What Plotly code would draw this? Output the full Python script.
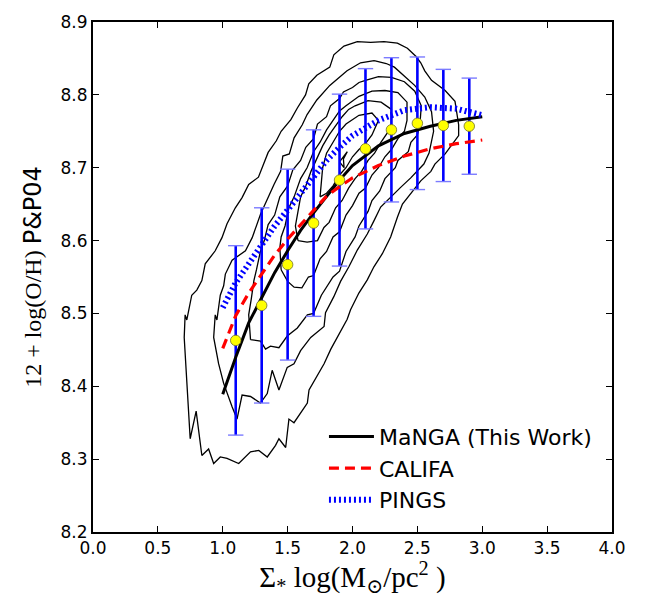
import plotly.graph_objects as go

# ---- Binned MaNGA medians with 1-sigma scatter ----
bin_x = [1.1, 1.3, 1.5, 1.7, 1.9, 2.1, 2.3, 2.5, 2.7, 2.9]
bin_y = [8.463, 8.511, 8.567, 8.624, 8.683, 8.726, 8.752, 8.761, 8.758, 8.757]
bin_err = [0.130, 0.134, 0.131, 0.128, 0.118, 0.110, 0.099, 0.091, 0.077, 0.066]

# ---- Fitted relations ----
fit_x = [1.0, 1.1, 1.2, 1.3, 1.4, 1.5, 1.6, 1.7, 1.8, 1.9, 2.0, 2.2, 2.4, 2.6, 2.8, 3.0]
manga_y = [8.389, 8.440, 8.487, 8.522, 8.556, 8.586, 8.614, 8.638, 8.661, 8.683,
           8.703, 8.730, 8.747, 8.757, 8.765, 8.770]
califa_y = [8.452, 8.497, 8.528, 8.554, 8.580, 8.602, 8.622, 8.641, 8.661, 8.674,
            8.686, 8.703, 8.716, 8.726, 8.733, 8.738]
pings_y = [8.508, 8.542, 8.568, 8.594, 8.620, 8.642, 8.665, 8.690, 8.710, 8.728,
           8.744, 8.765, 8.779, 8.783, 8.781, 8.772]

# ---- Spaxel density contours (outermost to innermost) ----
c1_x = [0.749, 0.723, 0.703, 0.710, 0.723, 0.761, 0.800, 0.839, 0.865, 0.942, 0.994, 1.033,
        1.097, 1.149, 1.200, 1.275, 1.313, 1.350, 1.413, 1.450, 1.525, 1.575, 1.638, 1.663,
        1.725, 1.825, 1.856, 1.934, 2.037, 2.140, 2.243, 2.346, 2.423, 2.488, 2.526, 2.557,
        2.609, 2.714, 2.790, 2.818, 2.818, 2.714, 2.635, 2.604, 2.526, 2.449, 2.385, 2.346,
        2.294, 2.230, 2.165, 2.114, 2.049, 1.985, 1.959, 1.833, 1.781, 1.665, 1.652, 1.549,
        1.510, 1.485, 1.433, 1.407, 1.343, 1.278, 1.214, 1.123, 1.033, 0.981, 0.930, 0.891,
        0.839, 0.795, 0.749]
c1_y = [8.328, 8.408, 8.467, 8.498, 8.491, 8.525, 8.532, 8.545, 8.568, 8.586, 8.604, 8.623,
        8.645, 8.659, 8.677, 8.687, 8.705, 8.721, 8.737, 8.750, 8.766, 8.782, 8.800, 8.815,
        8.827, 8.838, 8.855, 8.867, 8.873, 8.872, 8.873, 8.871, 8.864, 8.853, 8.844, 8.833,
        8.820, 8.806, 8.791, 8.759, 8.744, 8.719, 8.705, 8.695, 8.682, 8.664, 8.650, 8.632,
        8.605, 8.582, 8.564, 8.546, 8.528, 8.505, 8.492, 8.451, 8.431, 8.395, 8.377, 8.350,
        8.355, 8.316, 8.328, 8.319, 8.303, 8.312, 8.310, 8.294, 8.301, 8.303, 8.294, 8.314,
        8.305, 8.366, 8.328]

c2_x = [2.167, 2.260, 2.323, 2.400, 2.479, 2.557, 2.609, 2.625, 2.590, 2.550, 2.500, 2.449,
        2.371, 2.294, 2.217, 2.165, 2.114, 2.037, 1.972, 1.908, 1.856, 1.792, 1.781, 1.678,
        1.600, 1.549, 1.497, 1.433, 1.381, 1.343, 1.290, 1.214, 1.149, 1.110, 1.072, 1.007,
        0.968, 0.930, 0.942, 0.955, 0.981, 1.007, 1.020, 1.072, 1.175, 1.227, 1.265, 1.291,
        1.395, 1.446, 1.463, 1.513, 1.550, 1.613, 1.650, 1.725, 1.825, 1.958, 2.062, 2.167]
c2_y = [8.847, 8.843, 8.838, 8.826, 8.813, 8.797, 8.777, 8.750, 8.720, 8.705, 8.695, 8.686,
        8.673, 8.659, 8.646, 8.627, 8.609, 8.587, 8.564, 8.544, 8.523, 8.501, 8.482, 8.467,
        8.449, 8.431, 8.426, 8.395, 8.422, 8.390, 8.377, 8.386, 8.388, 8.355, 8.372, 8.404,
        8.431, 8.467, 8.498, 8.491, 8.525, 8.538, 8.554, 8.573, 8.586, 8.604, 8.623, 8.636,
        8.677, 8.695, 8.716, 8.719, 8.741, 8.759, 8.773, 8.793, 8.813, 8.833, 8.844, 8.847]

c3_x = [1.214, 1.291, 1.330, 1.368, 1.433, 1.497, 1.575, 1.652, 1.700, 1.760, 1.850, 1.900,
        1.950, 2.020, 2.050, 2.120, 2.150, 2.210, 2.250, 2.330, 2.350, 2.430, 2.450, 2.500,
        2.520, 2.530, 2.480, 2.400, 2.300, 2.200, 2.100, 2.050, 2.000, 1.930, 1.900, 1.830,
        1.800, 1.730, 1.700, 1.640, 1.600, 1.540, 1.500, 1.440, 1.400, 1.350, 1.320, 1.290,
        1.260, 1.240, 1.220, 1.200, 1.214]
c3_y = [8.464, 8.462, 8.451, 8.455, 8.453, 8.469, 8.480, 8.498, 8.500, 8.525, 8.550, 8.558,
        8.585, 8.605, 8.620, 8.640, 8.655, 8.668, 8.685, 8.700, 8.710, 8.722, 8.735, 8.745,
        8.760, 8.785, 8.805, 8.818, 8.824, 8.825, 8.820, 8.817, 8.810, 8.804, 8.795, 8.785,
        8.770, 8.760, 8.740, 8.728, 8.710, 8.697, 8.675, 8.660, 8.635, 8.622, 8.600, 8.585,
        8.560, 8.545, 8.520, 8.498, 8.464]

c4_x = [1.450, 1.500, 1.550, 1.610, 1.660, 1.700, 1.750, 1.800, 1.850, 1.900, 1.950, 2.000,
        2.050, 2.100, 2.150, 2.200, 2.250, 2.300, 2.350, 2.400, 2.420, 2.420, 2.350, 2.250,
        2.150, 2.050, 1.950, 1.900, 1.850, 1.800, 1.750, 1.700, 1.650, 1.600, 1.550, 1.510,
        1.480, 1.450, 1.440, 1.450]
c4_y = [8.560, 8.544, 8.536, 8.535, 8.550, 8.552, 8.575, 8.585, 8.605, 8.612, 8.635, 8.648,
        8.665, 8.672, 8.690, 8.700, 8.715, 8.725, 8.740, 8.750, 8.765, 8.790, 8.803, 8.806,
        8.805, 8.798, 8.785, 8.778, 8.765, 8.752, 8.735, 8.722, 8.700, 8.685, 8.660, 8.645,
        8.620, 8.605, 8.590, 8.560]

c5_x = [1.580, 1.650, 1.730, 1.780, 1.820, 1.870, 1.920, 1.970, 2.020, 2.070, 2.120, 2.170,
        2.220, 2.270, 2.300, 2.300, 2.220, 2.120, 2.020, 1.970, 1.920, 1.870, 1.820, 1.770,
        1.720, 1.680, 1.640, 1.600, 1.580, 1.560, 1.580]
c5_y = [8.600, 8.598, 8.600, 8.618, 8.625, 8.645, 8.655, 8.672, 8.685, 8.695, 8.710, 8.720,
        8.735, 8.748, 8.760, 8.780, 8.790, 8.792, 8.785, 8.780, 8.770, 8.758, 8.745, 8.730,
        8.710, 8.695, 8.675, 8.660, 8.640, 8.620, 8.600]

c6_x = [1.750, 1.800, 1.850, 1.900, 1.950, 2.000, 2.050, 2.100, 2.150, 2.200, 2.150, 2.050,
        1.950, 1.900, 1.850, 1.800, 1.770, 1.750]
c6_y = [8.660, 8.665, 8.675, 8.690, 8.700, 8.715, 8.725, 8.733, 8.745, 8.765, 8.775, 8.772,
        8.760, 8.750, 8.735, 8.720, 8.700, 8.660]

c7_x = [1.900, 1.935, 1.930, 1.960, 1.900]
c7_y = [8.708, 8.700, 8.712, 8.722, 8.708]

contours = [(c1_x, c1_y), (c2_x, c2_y), (c3_x, c3_y), (c4_x, c4_y),
            (c5_x, c5_y), (c6_x, c6_y), (c7_x, c7_y)]

x_ticks = [0.0, 0.5, 1.0, 1.5, 2.0, 2.5, 3.0, 3.5, 4.0]
y_ticks = [8.2, 8.3, 8.4, 8.5, 8.6, 8.7, 8.8, 8.9]

SERIF = "Liberation Serif, DejaVu Serif, serif"
SANS = "DejaVu Sans, sans-serif"

fig = go.Figure()

for cx, cy in contours:
    fig.add_trace(go.Scatter(x=cx, y=cy, mode="lines", line=dict(color="black", width=1.3),
                             showlegend=False, hoverinfo="skip"))

# error bars: thick blue stems, thin pale caps
fig.add_trace(go.Scatter(
    x=bin_x, y=bin_y, mode="markers", marker=dict(size=1, opacity=0),
    error_y=dict(type="data", array=bin_err, visible=True, color="#0000ff",
                 thickness=2.6, width=0),
    showlegend=False, hoverinfo="skip"))
cap_x = bin_x + bin_x
cap_y = [v + e for v, e in zip(bin_y, bin_err)] + [v - e for v, e in zip(bin_y, bin_err)]
fig.add_trace(go.Scatter(
    x=cap_x, y=cap_y, mode="markers",
    marker=dict(symbol="line-ew", size=11, line=dict(color="#7b7bff", width=1.4)),
    showlegend=False, hoverinfo="skip"))

fig.add_trace(go.Scatter(x=fit_x, y=manga_y, mode="lines", name="MaNGA (This Work)",
                         line=dict(color="black", width=3), legendrank=1))
fig.add_trace(go.Scatter(x=fit_x, y=califa_y, mode="lines", name="CALIFA",
                         line=dict(color="#ff0000", width=3.2, dash="10px,6px"), legendrank=2))
fig.add_trace(go.Scatter(x=fit_x, y=pings_y, mode="lines", name="PINGS",
                         line=dict(color="#0000ff", width=6, dash="2px,3px"), legendrank=3))

fig.add_trace(go.Scatter(
    x=bin_x, y=bin_y, mode="markers",
    marker=dict(size=10.5, color="#ffff00", line=dict(color="#6e6e2a", width=0.8)),
    showlegend=False, hoverinfo="skip"))

axis_common = dict(showline=True, linewidth=2, linecolor="black", mirror="ticks",
                   ticks="inside", ticklen=6, tickwidth=1, tickcolor="black",
                   showgrid=False, zeroline=False,
                   tickfont=dict(family=SANS, size=17, color="black"))

fig.update_layout(
    width=645, height=597,
    margin=dict(l=93, r=33, t=13, b=65),
    paper_bgcolor="white", plot_bgcolor="white",
    xaxis=dict(range=[0, 4], tickvals=x_ticks, ticktext=[f"{v:.1f}" for v in x_ticks],
               title=dict(text="Σ<sub>*</sub> log(M<sub>⊙</sub>/pc<sup>2</sup> )",
                          font=dict(family=SERIF, size=29, color="black"), standoff=4),
               **axis_common),
    yaxis=dict(range=[8.2, 8.9], tickvals=y_ticks, ticktext=[f"{v:.1f}" for v in y_ticks],
               title=dict(text="12 + log(O/H) <span style=\"font-family:DejaVu Sans\">P&amp;P04</span>",
                          font=dict(family=SERIF, size=24, color="black"), standoff=12),
               **axis_common),
    legend=dict(x=0.445, y=0.228, xanchor="left", yanchor="top", bgcolor="rgba(0,0,0,0)",
                font=dict(family=SANS, size=22, color="black"), itemwidth=45,
                tracegroupgap=0),
    showlegend=True,
)

fig.write_html("out.html")
